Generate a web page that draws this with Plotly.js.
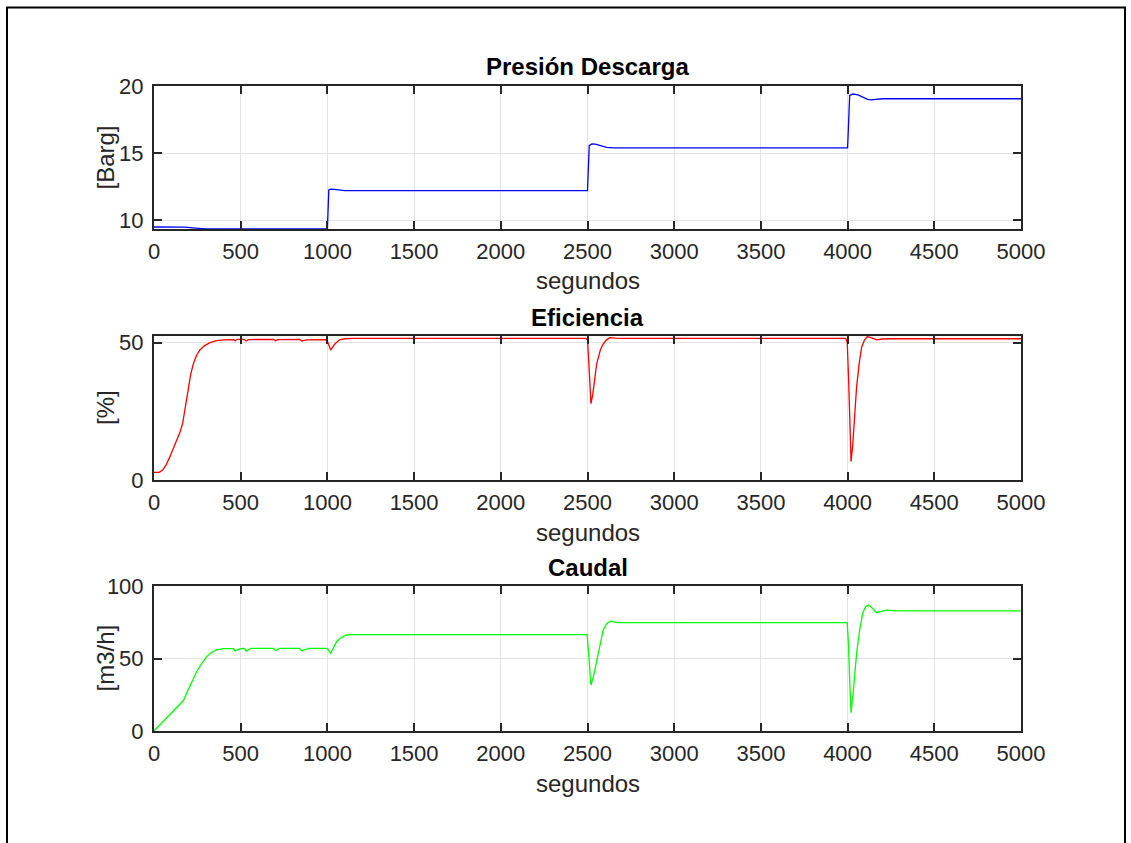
<!DOCTYPE html>
<html>
<head>
<meta charset="utf-8">
<script src="https://cdn.plot.ly/plotly-3.0.1.min.js"></script>
<style>html,body{margin:0;padding:0;background:#fff;} #chart{width:1131px;height:843px;}</style>
</head>
<body>
<div id="chart"></div>
<script>
// ---- data ----
const titles = ["Presión Descarga", "Eficiencia", "Caudal"];
const yTitles = ["[Barg]", "[%]", "[m3/h]"];
const xTitle = "segundos";

const tPresion = [0,100,180,220,260,300,400,999,1000,1008,1020,1040,1070,1100,1150,2499,2500,2510,2525,2545,2575,2610,2650,2700,3995,4000,4012,4030,4060,4090,4115,4135,4160,4200,4250,5000];
const presion  = [9.48,9.48,9.47,9.42,9.37,9.34,9.33,9.33,9.33,12.25,12.3,12.28,12.22,12.2,12.2,12.2,12.2,15.55,15.68,15.66,15.55,15.42,15.38,15.38,15.38,15.38,19.3,19.4,19.33,19.15,19.0,18.97,19.02,19.05,19.05,19.05];

const tEficiencia = [0,30,50,70,92,120,150,165,180,198,212,227,245,265,290,323,360,400,460,467,480,520,531,545,600,690,700,715,840,852,880,960,996,1003,1019,1040,1070,1100,1150,2490,2500,2508,2515,2520,2530,2553,2575,2591,2610,2630,2660,2700,3990,3998,4005,4012,4020,4030,4052,4068,4081,4098,4114,4135,4168,4200,4250,5000];
const eficiencia  = [2.8,2.8,3.6,5.5,8.5,12.8,17.5,20.5,26,33.8,38.5,42.3,45.3,47.3,48.8,50.0,50.7,51.0,51.1,50.6,51.2,51.2,50.6,51.1,51.2,51.2,50.7,51.1,51.2,50.6,51.0,51.2,51.1,50.0,47.3,49.3,51.0,51.4,51.5,51.5,51.0,42,33,27.8,31,42.3,47.5,49.5,51.0,51.8,51.6,51.5,51.5,50,38,18,6.7,13,34,43,48.3,51,52.2,51.8,51.0,51.3,51.4,51.4];

const tCaudal = [0,150,170,188,215,246,275,304,330,361,400,450,460,467,480,500,515,525,531,545,560,690,700,715,730,840,852,870,900,996,1005,1019,1035,1053,1080,1111,1140,2498,2505,2512,2520,2535,2553,2572,2591,2610,2634,2660,2688,3998,4005,4012,4020,4035,4052,4070,4087,4103,4120,4140,4168,4195,4226,4260,4300,5000];
const caudal  = [0,18,21,26,33.5,40.9,46.5,51.3,54,55.9,56.8,57,56.8,55.2,56,56.8,57,56.5,55.1,56.2,57,57,55.5,56.5,57,57,55.2,56.2,57,57,56,53.6,57.5,61.6,64.5,66.2,66.4,66.4,56,42,31.7,38,48.9,60,69.7,74,75.9,75.0,74.7,74.7,60,35,12.6,30,53.6,70,81.2,85.5,86.9,85,81.6,82.5,83.4,83.0,82.8,82.8];

const xTicks = [0,500,1000,1500,2000,2500,3000,3500,4000,4500,5000];
const yRanges = [[9.33,20],[0,52.4],[0,100]];
const yTicks = [[10,15,20],[0,50],[0,50,100]];
const colors = ["#0000ff","#ff0000","#00ff00"];

// ---- layout geometry (pixels in a 1131x843 figure) ----
const W = 1131, H = 843;
const px = v => v / W;
const py = v => 1 - v / H;
const axL = 154, axR = 1021;
const axTop = [86, 336, 586];
const axBot = [229, 480, 731];

const series = [[tPresion, presion],[tEficiencia, eficiencia],[tCaudal, caudal]];
const traces = series.map((s, i) => ({
  x: s[0], y: s[1], type: 'scatter', mode: 'lines',
  line: {color: colors[i], width: 1.3},
  xaxis: i === 0 ? 'x' : 'x' + (i + 1),
  yaxis: i === 0 ? 'y' : 'y' + (i + 1),
  hoverinfo: 'skip', showlegend: false
}));

const family = 'Liberation Sans, Arial, sans-serif';
const tickFont = {family: family, size: 22, color: '#262626'};
const labelFont = {family: family, size: 24, color: '#262626'};
const layout = {
  width: W, height: H,
  margin: {l: 0, r: 0, t: 0, b: 0},
  paper_bgcolor: '#ffffff', plot_bgcolor: '#ffffff',
  font: tickFont,
  showlegend: false,
  annotations: [],
  shapes: [{
    type: 'rect', xref: 'paper', yref: 'paper',
    x0: px(7), x1: px(1125), y0: -0.2, y1: py(7.5),
    line: {color: '#000000', width: 2}, fillcolor: 'rgba(0,0,0,0)', layer: 'above'
  }]
};

for (let i = 0; i < 3; i++) {
  const sfx = i === 0 ? '' : String(i + 1);
  layout['xaxis' + sfx] = {
    domain: [px(axL), px(axR)],
    anchor: 'y' + sfx,
    range: [0, 5000],
    tickvals: xTicks, ticktext: xTicks.map(String),
    ticks: 'inside', ticklen: 8, tickwidth: 2, tickcolor: '#262626',
    showline: true, linecolor: '#262626', linewidth: 2, mirror: 'ticks',
    showgrid: true, gridcolor: '#e3e3e3', gridwidth: 1,
    zeroline: false, ticklabelstandoff: 2,
    tickfont: tickFont, fixedrange: true
  };
  layout['yaxis' + sfx] = {
    domain: [py(axBot[i]), py(axTop[i])],
    anchor: 'x' + sfx,
    range: yRanges[i],
    tickvals: yTicks[i], ticktext: yTicks[i].map(String),
    ticks: 'inside', ticklen: 8, tickwidth: 2, tickcolor: '#262626',
    showline: true, linecolor: '#262626', linewidth: 2, mirror: 'ticks',
    showgrid: true, gridcolor: '#e3e3e3', gridwidth: 1,
    zeroline: false, ticklabelstandoff: 4,
    tickfont: tickFont, fixedrange: true
  };
  layout.annotations.push({
    text: '<b>' + titles[i] + '</b>', xref: 'paper', yref: 'paper',
    x: px((axL + axR) / 2), y: py(axTop[i] - 19), xanchor: 'center', yanchor: 'middle',
    showarrow: false, font: {family: family, size: 24, color: '#000000'}
  });
  layout.annotations.push({
    text: xTitle, xref: 'paper', yref: 'paper',
    x: px((axL + axR) / 2), y: py(axBot[i] + 52), xanchor: 'center', yanchor: 'middle',
    showarrow: false, font: labelFont
  });
  layout.annotations.push({
    text: yTitles[i], xref: 'paper', yref: 'paper',
    x: px(105), y: py((axTop[i] + axBot[i]) / 2), xanchor: 'center', yanchor: 'middle',
    textangle: -90, showarrow: false, font: labelFont
  });
}

Plotly.newPlot('chart', traces, layout, {displayModeBar: false, staticPlot: true});
</script>
</body>
</html>
